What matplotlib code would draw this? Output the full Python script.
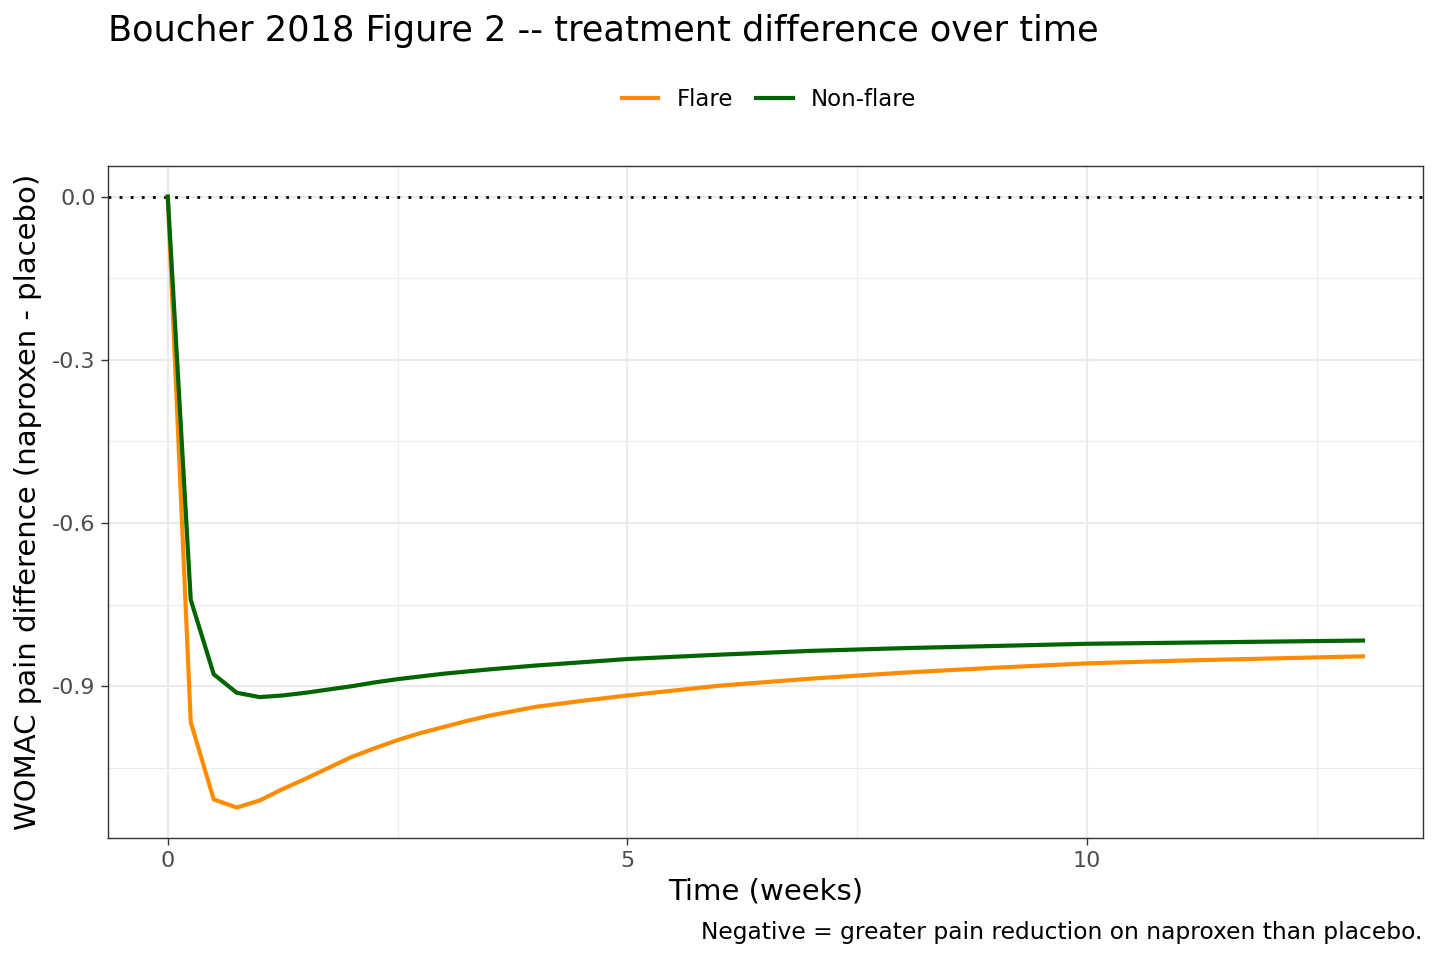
import numpy as np
import matplotlib
matplotlib.use("Agg")
import matplotlib.pyplot as plt
from matplotlib.ticker import MultipleLocator

# ------------------ Data ------------------
weeks = [0, 0.25, 0.5, 0.75, 1, 1.25, 1.5, 1.75, 2, 2.25, 2.5, 2.75, 3, 3.25,
         3.5, 4, 4.5, 5, 6, 7, 8, 9, 10, 11, 12, 13]
flare = [0, -0.966, -1.108, -1.123, -1.110, -1.089, -1.070, -1.050, -1.030,
         -1.014, -0.999, -0.986, -0.975, -0.964, -0.954, -0.938, -0.927,
         -0.917, -0.899, -0.886, -0.875, -0.866, -0.858, -0.853, -0.849, -0.845]
non_flare = [0, -0.741, -0.878, -0.912, -0.920, -0.917, -0.912, -0.906, -0.900,
             -0.893, -0.887, -0.882, -0.877, -0.873, -0.869, -0.862, -0.856,
             -0.850, -0.842, -0.835, -0.830, -0.826, -0.822, -0.820, -0.818, -0.816]
y_ticks = [0.0, -0.3, -0.6, -0.9]
x_ticks = [0, 5, 10]

# ------------------ Plot ------------------
fig = plt.figure(figsize=(14.4, 9.6), dpi=100)
ax = fig.add_axes([0.075, 0.127, 0.913, 0.700])

ax.axhline(0, color="black", lw=2, linestyle=(0, (1, 3)), zorder=2)
l1, = ax.plot(weeks, flare, color="#FF8C00", lw=3, label="Flare", zorder=3)
l2, = ax.plot(weeks, non_flare, color="#006400", lw=3, label="Non-flare", zorder=3)

xmin, xmax = 0, 13
ymin, ymax = min(flare), 0
xpad = 0.05 * (xmax - xmin)
ypad = 0.05 * (ymax - ymin)
ax.set_xlim(xmin - xpad, xmax + xpad)
ax.set_ylim(ymin - ypad, ymax + ypad)

ax.set_xticks(x_ticks)
ax.set_yticks(y_ticks)
ax.set_yticklabels([f"{v:.1f}" for v in y_ticks])
ax.xaxis.set_minor_locator(MultipleLocator(2.5))
ax.yaxis.set_minor_locator(MultipleLocator(0.15))

ax.grid(which="major", color="#EBEBEB", lw=1.6)
ax.grid(which="minor", color="#EBEBEB", lw=0.8)
ax.set_axisbelow(True)
ax.tick_params(which="minor", length=0)
ax.tick_params(which="major", length=5, width=1, color="#333333",
               labelsize=16, labelcolor="#4D4D4D", pad=4)
for s in ax.spines.values():
    s.set_color("#333333")
    s.set_linewidth(1)

ax.set_xlabel("Time (weeks)", fontsize=21, labelpad=5)
ax.set_ylabel("WOMAC pain difference (naproxen - placebo)", fontsize=21, labelpad=7)

fig.text(0.075, 0.968, "Boucher 2018 Figure 2 -- treatment difference over time",
         fontsize=25.3, ha="left", va="center")
fig.text(0.988, 0.029, "Negative = greater pain reduction on naproxen than placebo.",
         fontsize=16.8, ha="right", va="center")
fig.legend(handles=[l1, l2], loc="center", bbox_to_anchor=(0.534, 0.896), ncol=2,
           frameon=False, fontsize=16.5, handlelength=1.6, columnspacing=1.0,
           handletextpad=0.8)

plt.savefig("out.png", dpi=100)
